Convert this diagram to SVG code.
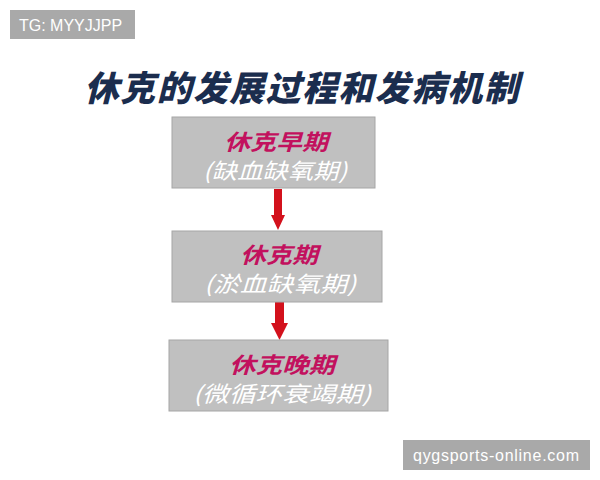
<svg xmlns="http://www.w3.org/2000/svg" width="600" height="480" viewBox="0 0 600 480">
<style>
.wm{fill:#a9a9a9}
.wmt{font-family:"Liberation Sans",Arial,sans-serif;font-size:16px;fill:#ffffff}
.title{font-family:"Noto Sans CJK SC",sans-serif;font-size:35px;font-weight:900;font-style:italic;fill:#1b2d4e;letter-spacing:1.5px}
.box{fill:#c0c0c0;stroke:#a6a6a6;stroke-width:1}
.t1{font-family:"Noto Sans CJK SC",sans-serif;font-size:22px;font-weight:bold;font-style:italic;fill:#c2115e;text-anchor:middle}
.t2{font-family:"Noto Sans CJK SC",sans-serif;font-size:22px;font-style:italic;fill:#ffffff;text-anchor:middle}
.arr{fill:#d3111c}
</style>
<rect class="wm" x="10" y="10" width="125" height="29"/>
<text class="wmt" x="19" y="31">TG: MYYJJPP</text>
<text class="title" x="84" y="101" textLength="436" lengthAdjust="spacingAndGlyphs">休克的发展过程和发病机制</text>
<g id="connectors">
<path class="arr" d="M274,189 H282 V215 H285 L278,230 L271,215 H274 Z"/>
<path class="arr" d="M275,302 H284 V323 H288 L279.5,340 L271,323 H275 Z"/>
</g>
<g id="node1">
<rect class="box" x="172" y="117" width="203" height="71"/>
<text class="t1" x="276" y="150" textLength="104" lengthAdjust="spacingAndGlyphs">休克早期</text>
<text class="t2" x="275" y="179" textLength="144" lengthAdjust="spacingAndGlyphs">(缺血缺氧期)</text>
</g>
<g id="node2">
<rect class="box" x="172" y="231" width="210" height="71"/>
<text class="t1" x="279" y="263" textLength="78" lengthAdjust="spacingAndGlyphs">休克期</text>
<text class="t2" x="280" y="292" textLength="152" lengthAdjust="spacingAndGlyphs">(淤血缺氧期)</text>
</g>
<g id="node3">
<rect class="box" x="169" y="340" width="219" height="71"/>
<text class="t1" x="282" y="373" textLength="106" lengthAdjust="spacingAndGlyphs">休克晚期</text>
<text class="t2" x="282" y="402" textLength="178" lengthAdjust="spacingAndGlyphs">(微循环衰竭期)</text>
</g>
<rect class="wm" x="403" y="440" width="187" height="30"/>
<text class="wmt" x="413" y="461" textLength="166">qygsports-online.com</text>
</svg>
